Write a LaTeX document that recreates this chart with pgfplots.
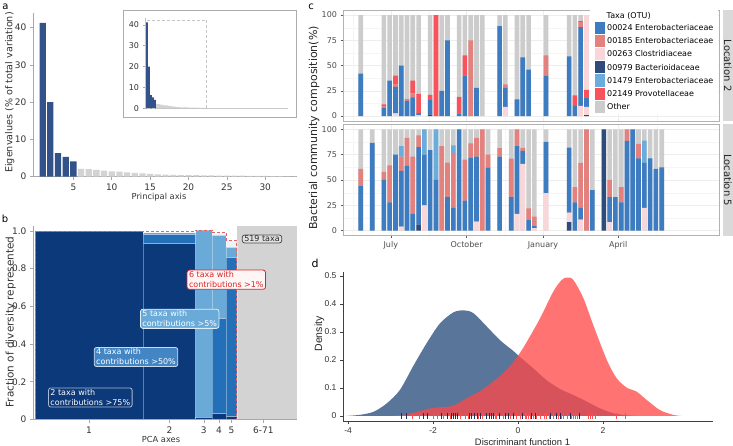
\documentclass[border=0pt]{standalone}
\usepackage{pgfplots}
\pgfplotsset{compat=1.18}
\usepackage{pgfplotstable}
\usepackage{fontspec}
\setmainfont{DejaVu Sans}
\newfontfamily\lib{Liberation Sans}

% panel a
\definecolor{navyA}{HTML}{34528A}
\definecolor{greyA}{HTML}{D3D3D3}
\definecolor{spine}{HTML}{A8A8A8}
\definecolor{txt}{HTML}{333333}
% panel b
\definecolor{bDark}{HTML}{0C397A}
\definecolor{bMid}{HTML}{2370B8}
\definecolor{bLight}{HTML}{6AAAD8}
\definecolor{bPale}{HTML}{EEF3F9}
\definecolor{bRed}{HTML}{D62728}
\definecolor{bDash}{HTML}{E06666}
% panel c
\definecolor{o24}{HTML}{3D7CC1}
\definecolor{o185}{HTML}{E3817F}
\definecolor{o263}{HTML}{F9D6D9}
\definecolor{o979}{HTML}{2F4B7C}
\definecolor{o1479}{HTML}{6AADDC}
\definecolor{o2149}{HTML}{F8525A}
\definecolor{oOther}{HTML}{CCCCCC}
% panel d
\definecolor{dBlue}{HTML}{5A759A}
\definecolor{dRed}{HTML}{FF4747}
\definecolor{dNavy}{HTML}{1F2D5C}
\definecolor{dTick}{HTML}{FF4D4D}

\pgfplotsset{
  /pgf/number format/assume math mode=true,
  mpl/.style={scale only axis, axis x line*=bottom, axis y line*=left,
    axis line style={draw=spine, line width=0.7pt},
    tick align=outside, major tick length=3.5pt,
    tick style={draw=spine, line width=0.7pt},
    ticklabel style={font=\fontsize{9}{10}\selectfont, text=txt}},
  facet/.style={scale only axis, width=376pt,
    xmin=-3.06, xmax=61.9, ymin=-5, ymax=105,
    axis line style={draw=gray!60, line width=0.6pt},
    xtick={5.2,18.3,31.5,44.5}, minor xtick={-1.35,11.75,24.9,38,51.2},
    ytick={0,25,50,75,100}, minor ytick={12.5,37.5,62.5,87.5},
    grid=both, major grid style={draw=gray!14, line width=0.5pt},
    minor grid style={draw=gray!8, line width=0.3pt},
    xtick pos=left, ytick pos=left,
    tick align=outside, major tick length=2.5pt, minor tick length=0pt,
    tick style={draw=gray!70!black, line width=0.5pt},
    ticklabel style={font=\fontsize{8}{9}\selectfont, text=black!70}},
  stk/.style={scale only axis, width=376pt,
    xmin=-3.06, xmax=61.9, ymin=-5, ymax=105, hide axis,
    ybar stacked, bar width=0.8},
}

\tikzset{
  tbox/.style={rounded corners=2.5pt, line width=0.8pt, inner xsep=2pt,
    inner ysep=1.5pt, align=left, font=\fontsize{8}{10}\selectfont},
}

\newcommand{\brect}[5]{\addplot[fill=#1, draw=white, draw opacity=0.35, line width=0.3pt]
  coordinates {(#2,#4) (#3,#4) (#3,#5) (#2,#5)} -- cycle;}

% eigenvalues, % of total variation
\pgfplotstableread{
pc ev
1 41.3
2 20.0
3 6.3
4 5.3
5 4.1
}\eigTop
\pgfplotstableread{
pc ev
6 2.1
7 2.0
8 1.8
9 1.6
10 1.45
11 1.35
12 1.15
13 1.0
14 0.9
15 0.75
16 0.62
17 0.55
18 0.5
19 0.45
20 0.42
21 0.4
22 0.37
23 0.35
24 0.32
25 0.3
26 0.28
27 0.26
28 0.24
29 0.22
30 0.2
31 0.12
32 0.12
33 0.11
34 0.11
35 0.10
36 0.10
37 0.10
38 0.09
39 0.09
40 0.09
41 0.08
42 0.08
43 0.08
44 0.08
45 0.07
46 0.07
47 0.07
48 0.07
49 0.07
50 0.06
51 0.06
52 0.06
53 0.06
54 0.06
55 0.05
56 0.05
57 0.05
58 0.05
59 0.05
60 0.05
61 0.04
62 0.04
63 0.04
64 0.04
65 0.04
66 0.04
67 0.03
68 0.03
69 0.03
70 0.03
71 0.03
}\eigRest

% community composition, week index k
\pgfplotstableread{
k  dk  pl   bl   sa   lb   rd   pt  tot
0  0   0    42   0    0    0    0   100
4  0   0    8    2    0    1.5  0   100
5  0   0    35   0    0    0    0   100
6  0   2.6  26.4 2    0    9    0   100
7  0   0    50   0    0    0    0   100
8  0   0    15   2    0    0    0   100
9  0   0    18.5 4    0    12.5 0   100
10 0   1    2    0    0    19   0   100
12 1.5 0    15   0    0    4.5  0   100
13 0   0    0    0    0    100  0   100
14 0   0    25   0    0    0    0   100
15 0   0    75   0    0    0    0   100
17 0   0    2.3  0    0    16.7 0   100
18 0   0    40   0    0    20   0   100
19 0   0    0    75   0    0    0   100
20 0   0    28   0    0    0    0   100
21 0   0    0    0    0    0    0   100
24 0   0    89   0    0    0    0   100
25 0   9    19   2    0    1    0   100
27 0   0    16.5 0    0    0    0   100
28 0   0    58   0    0    0    0   100
29 0   0    46   0    0    0    0   100
32 0   0    40   20   0    0    0   100
36 0   0    59   0    0    0    0   100
37 0   0    10   0    0    10.5 0   100
38 0   10   78   5    0    1    0   100
39 1   8    9.5  0    0    7.5  74  100
}\locTwo
\pgfplotstableread{
k  dk  pl   bl   sa   lb   rd  pt  tot
0  0   0    44   17   0    0   0   100
2  0   0    86.5 0    0    0   0   100
4  0   0    50   8    0    0   0   100
5  0   0    28   36.5 0    0   0   100
6  0   0    75   0    0    0   0   100
7  0   4    55   14   10.5 0   0   100
8  0   0    64   27.5 0    0   0   100
9  0   0    16.5 56.5 0    0   0   100
10 6   0    76.5 11.5 0    0   0   100
11 0   25   50   0    25   0   0   100
12 0   0    79.5 0    0    0   0   100
13 0   0    50   0    50   0   0   100
14 0   0    0    83.5 0    0   0   100
15 0   0    33   34   0    0   0   100
16 0   0    22.7 54   7.3  0   0   100
17 0   0    100  0    0    0   0   100
18 0   0    29.6 40.4 0    0   0   100
19 0   0    71.7 14.3 0    0   0   100
20 0   9    64   18.5 0    0   0   100
21 0   0    0    100  0    0   0   100
22 0   0    62   13   0    0   0   100
24 0   0    73   8.5  0    0   0   100
26 0   0    33   38   0    0   0   100
27 0   16.5 67   16.5 0    0   0   100
28 0   66   12.6 3    0    0   0   100
29 0   0    10.5 11.5 0    0   0   100
30 0   2.6  2    9.4  0    0   0   100
32 0   37   50.5 0    0    0   0   100
36 8.5 9.3  64.2 0    0    0   0   100
37 0   0    28   15   0    0   0   100
38 0   11   11.4 44.4 0    0   0   100
39 0   0    0    100  0    0   0   100
40 0   0    40   0    0    0   0   100
42 100 0    0    0    0    0   0   100
43 0   8.5  24.5 17   0    0   0   100
44 0   0    33   0    0    0   0   100
45 0   0    28   15   0    0   0   100
46 0   0    88.5 11.5 0    0   0   100
47 0   0    100  0    0    0   0   100
48 0   0    71.4 14.1 0    0   0   100
49 0   22.4 44.4 0    22   0   0   100
50 0   0    71.4 0    0    0   0   100
51 0   0    61   0    0    0   0   100
52 0   0    62.5 0    0    0   0   100
}\locFive

\begin{document}
\begin{tikzpicture}
\useasboundingbox (0,0) rectangle (733pt,446pt);

% ---------------- a
\begin{axis}[mpl, at={(33.3pt,269.3pt)}, anchor=south west,
  width=263.4pt, height=164pt, xmin=-0.22, xmax=34.1, ymin=0, ymax=44,
  xtick={5,10,15,20,25,30}, ytick={0,10,20,30,40}]
\addplot[ybar, bar width=0.82, bar shift=0pt, fill=navyA, draw=none] table[x=pc, y=ev] \eigTop;
\addplot[ybar, bar width=0.82, bar shift=0pt, fill=greyA, draw=none] table[x=pc, y=ev] \eigRest;
\end{axis}
\draw[gray!65, line width=0.9pt] (123pt,329pt) rectangle (296pt,436pt);
\begin{axis}[mpl, at={(145pt,337.7pt)}, anchor=south west,
  width=143pt, height=90pt, xmin=0, xmax=71.5, ymin=0, ymax=43.2,
  xtick=\empty, ytick={0,10,20,30,40}, major tick length=2.5pt,
  axis line style={draw=spine!70, line width=0.6pt},
  ticklabel style={font=\fontsize{8}{9}\selectfont}]
\addplot[ybar, bar width=0.8, bar shift=0pt, fill=navyA, draw=none] table[x=pc, y=ev] \eigTop;
\addplot[ybar, bar width=0.8, bar shift=0pt, fill=greyA, draw=none] table[x=pc, y=ev] \eigRest;
\draw[densely dashed, gray!45, line width=0.4pt] (axis cs:0,0) rectangle (axis cs:30.8,42.4);
\end{axis}
\node[font=\fontsize{10}{12}\selectfont] at (5.5pt,439pt) {a};
\node[rotate=90, font=\fontsize{9.6}{11}\selectfont, text=txt] at (9.7pt,353.5pt) {Eigenvalues (\% of total variation)};
\node[font=\fontsize{8.3}{10}\selectfont, text=txt] at (159pt,249pt) {Principal axis};

% ---------------- b
\begin{axis}[mpl, at={(33.4pt,26.5pt)}, anchor=south west,
  width=263.6pt, height=193.2pt, xmin=-0.6, xmax=100, ymin=0, ymax=1.025,
  xtick={20.65,51.3,64.45,70.25,74.95,87.2}, xticklabels={1,2,3,4,5,6-71},
  ytick={0,0.2,0.4,0.6,0.8,1.0}, yticklabels={0,0.2,0.4,0.6,0.8,1.0},
  axis on top]
\addplot[fill=greyA, draw=none] coordinates {(77,0) (100,0) (100,1.025) (77,1.025)} -- cycle;
\brect{bDark}{0}{41.3}{0}{1}
\brect{bDark}{41.3}{61.3}{0}{0.935}
\brect{bMid}{41.3}{61.3}{0.935}{0.984}
\brect{bLight}{41.3}{61.3}{0.984}{0.993}
\brect{bPale}{41.3}{61.3}{0.993}{0.997}
\brect{bDark}{61.3}{67.6}{0}{0.012}
\brect{bLight}{61.3}{67.6}{0.012}{1.005}
\brect{bDark}{67.6}{72.9}{0}{0.035}
\brect{bMid}{67.6}{72.9}{0.035}{0.54}
\brect{bLight}{67.6}{72.9}{0.54}{0.98}
\brect{bPale}{67.6}{72.9}{0.98}{0.99}
\brect{bDark}{72.9}{77}{0}{0.02}
\brect{bMid}{72.9}{77}{0.02}{0.86}
\brect{bLight}{72.9}{77}{0.86}{0.915}
\brect{bPale}{72.9}{77}{0.915}{0.95}
\addplot[draw=bDash, densely dashed, line width=0.8pt, fill=none] coordinates {(0,0) (0,1) (41.3,1) (41.3,0.997) (61.3,0.997) (61.3,1.005) (67.6,1.005) (67.6,0.99) (72.9,0.99) (72.9,0.95) (77,0.95) (77,0)} -- cycle;
\end{axis}
\node[font=\fontsize{10}{12}\selectfont] at (5pt,227pt) {b};
\node[rotate=90, font=\fontsize{10.5}{12}\selectfont, text=txt] at (10.7pt,124pt) {Fraction of diversity represented};
\node[font=\fontsize{8.3}{10}\selectfont, text=txt] at (161pt,7pt) {PCA axes};
\node[tbox, fill=white!96!red, draw=bRed, text=bRed] at (226.3pt,166.3pt) {6 taxa with\\contributions >1\%};
\node[tbox, fill=bLight, draw=white!80!bLight, text=white] at (179.7pt,127.2pt) {5 taxa with\\contributions >5\%};
\node[tbox, fill=bMid!85!white, draw=white!75!bMid, text=white] at (136pt,89pt) {4 taxa with\\contributions >50\%};
\node[tbox, fill=bDark, draw=white!65!bDark, text=white] at (90.3pt,48.5pt) {2 taxa with\\contributions >75\%};
\node[tbox, fill=greyA!70!white, draw=black!70, text=black!85, inner ysep=1pt] at (262pt,207pt) {519 taxa};

% ---------------- c
\begin{axis}[facet, at={(343pt,324.9pt)}, anchor=south west, height=111.1pt,
  xticklabels={}, major x tick style={draw=none}]
\addplot[ybar, bar width=0.8, bar shift=0pt, fill=oOther, draw=none] table[x=k, y=tot] \locTwo;
\end{axis}
\begin{axis}[stk, at={(343pt,324.9pt)}, anchor=south west, height=111.1pt]
\addplot[fill=o979, draw=none] table[x=k, y=dk] \locTwo;
\addplot[fill=o263, draw=none] table[x=k, y=pl] \locTwo;
\addplot[fill=o24, draw=none] table[x=k, y=bl] \locTwo;
\addplot[fill=o185, draw=none] table[x=k, y=sa] \locTwo;
\addplot[fill=o1479, draw=none] table[x=k, y=lb] \locTwo;
\addplot[fill=o2149, draw=none] table[x=k, y=rd] \locTwo;
\addplot[fill=o263, draw=none] table[x=k, y=pt] \locTwo;
\end{axis}
\begin{axis}[facet, at={(343pt,210.2pt)}, anchor=south west, height=111.6pt,
  xticklabels={July,October,January,April}]
\addplot[ybar, bar width=0.8, bar shift=0pt, fill=oOther, draw=none] table[x=k, y=tot] \locFive;
\end{axis}
\begin{axis}[stk, at={(343pt,210.2pt)}, anchor=south west, height=111.6pt]
\addplot[fill=o979, draw=none] table[x=k, y=dk] \locFive;
\addplot[fill=o263, draw=none] table[x=k, y=pl] \locFive;
\addplot[fill=o24, draw=none] table[x=k, y=bl] \locFive;
\addplot[fill=o185, draw=none] table[x=k, y=sa] \locFive;
\addplot[fill=o1479, draw=none] table[x=k, y=lb] \locFive;
\addplot[fill=o2149, draw=none] table[x=k, y=rd] \locFive;
\end{axis}
% strips
\fill[gray!30] (722.8pt,324.9pt) rectangle (733pt,436pt);
\node[rotate=-90, font=\fontsize{10}{12}\selectfont, text=black!85] at (727.9pt,380.4pt) {Location 2};
\fill[gray!30] (722.8pt,210.2pt) rectangle (733pt,321.8pt);
\node[rotate=-90, font=\fontsize{10}{12}\selectfont, text=black!85] at (727.9pt,266pt) {Location 5};
% legend
\fill[white] (590pt,332pt) rectangle (718.3pt,435.5pt);
\node[anchor=base west, font=\fontsize{8}{9}\selectfont, inner sep=0pt] at (606.5pt,427.6pt) {Taxa (OTU)};
\foreach \c/\t/\y in {o24/00024 Enterobacteriaceae/418.3, o185/00185 Enterobacteriaceae/405.1,
    o263/00263 Clostridiaceae/391.9, o979/00979 Bacterioidaceae/378.7,
    o1479/01479 Enterobacteriaceae/365.5, o2149/02149 Provotellaceae/352.3, oOther/Other/339.1}{
  \fill[\c] (595pt,\y pt-6.1pt) rectangle (604.5pt,\y pt+6.1pt);
  \node[anchor=base west, font=\fontsize{8}{9}\selectfont, inner sep=0pt] at (607pt,\y pt-2.9pt) {\t};
}
\node[font=\fontsize{10}{12}\selectfont] at (311pt,439.5pt) {c};
\node[rotate=90, font=\fontsize{11}{13}\selectfont, text=black!85] at (314pt,318pt) {Bacterial community composition(\%)};

% ---------------- d
\begin{axis}[scale only axis, at={(343pt,25pt)}, anchor=south west,
  width=370pt, height=149pt, xmin=-4.12, xmax=4.59, ymin=-0.018, ymax=0.514,
  axis x line*=bottom, axis y line*=left, axis line style={draw=black!75, line width=0.6pt},
  tick align=outside, major tick length=3pt, tick style={draw=black!75, line width=0.6pt},
  xtick={-4,-2,0,2}, xticklabels={-4,-2,0,2},
  ytick={0,0.1,0.2,0.3,0.4,0.5}, yticklabels={0,0.1,0.2,0.3,0.4,0.5},
  ticklabel style={font=\lib\fontsize{8.5}{10}\selectfont, text=black!80}]
\addplot[fill=dBlue, draw=none, smooth] coordinates {
  (-4.05,0) (-3.72,0.004) (-3.4,0.015) (-3.09,0.045) (-2.78,0.093) (-2.46,0.18)
  (-2.15,0.26) (-1.84,0.33) (-1.52,0.37) (-1.27,0.377) (-1.05,0.367) (-0.74,0.32)
  (-0.42,0.27) (-0.11,0.232) (0.05,0.21) (0.36,0.17) (0.67,0.128) (0.99,0.096)
  (1.3,0.075) (1.62,0.051) (1.93,0.027) (2.24,0.01) (2.56,0.002) (2.8,0)} \closedcycle;
\addplot[fill=dRed, fill opacity=0.76, draw=none, smooth] coordinates {
  (-3.05,0) (-2.62,0.006) (-2.3,0.018) (-2.07,0.027) (-1.84,0.031) (-1.52,0.037)
  (-1.21,0.063) (-0.89,0.089) (-0.58,0.123) (-0.27,0.164) (0,0.215) (0.2,0.263)
  (0.52,0.349) (0.83,0.444) (1.03,0.486) (1.15,0.494) (1.3,0.486) (1.54,0.42)
  (1.77,0.325) (2.09,0.2) (2.32,0.135) (2.56,0.101) (2.79,0.087) (3.03,0.057)
  (3.34,0.021) (3.65,0.004) (3.85,0)} \closedcycle;
\addplot[only marks, mark=|, mark size=2.85pt, color=dNavy, mark options={line width=0.6pt}] coordinates {
  (-2.75,0) (-2.62,0) (-2.23,0) (-2.13,0) (-1.90,0) (-1.80,0) (-1.66,0) (-1.56,0)
  (-1.52,0) (-1.48,0) (-1.44,0) (-1.43,0) (-1.15,0) (-1.09,0) (-1.04,0) (-0.97,0)
  (-0.89,0) (-0.74,0) (-0.67,0) (-0.62,0) (-0.58,0) (-0.44,0) (-0.29,0) (-0.23,0)
  (-0.11,0) (0.11,0) (0.32,0) (0.40,0) (0.77,0) (0.91,0) (0.99,0) (1.22,0) (1.44,0)};
\addplot[only marks, mark=|, mark size=2.85pt, color=dTick, mark options={line width=0.6pt}] coordinates {
  (-2.50,0) (-2.32,0) (-1.99,0) (-1.91,0) (-1.76,0) (-1.60,0) (-1.35,0) (-1.25,0)
  (-1.17,0) (-0.93,0) (-0.83,0) (-0.54,0) (-0.50,0) (-0.35,0) (-0.19,0) (-0.05,0)
  (0.05,0) (0.16,0) (0.20,0) (0.24,0) (0.30,0) (0.36,0) (0.44,0) (0.52,0) (0.61,0)
  (0.67,0) (0.74,0) (0.83,0) (0.95,0) (1.03,0) (1.07,0) (1.15,0) (1.26,0) (1.30,0)
  (1.34,0) (1.40,0) (1.65,0) (1.71,0) (1.76,0) (1.81,0) (2.31,0) (2.52,0)};
\end{axis}
\node[font=\fontsize{11}{13}\selectfont] at (315pt,183pt) {d};
\node[rotate=90, font=\lib\fontsize{10.5}{12}\selectfont, text=black!85] at (319.5pt,112pt) {Density};
\node[font=\lib\fontsize{9.4}{11}\selectfont, text=black!85] at (522.5pt,4.3pt) {Discriminant function 1};
\end{tikzpicture}
\end{document}
